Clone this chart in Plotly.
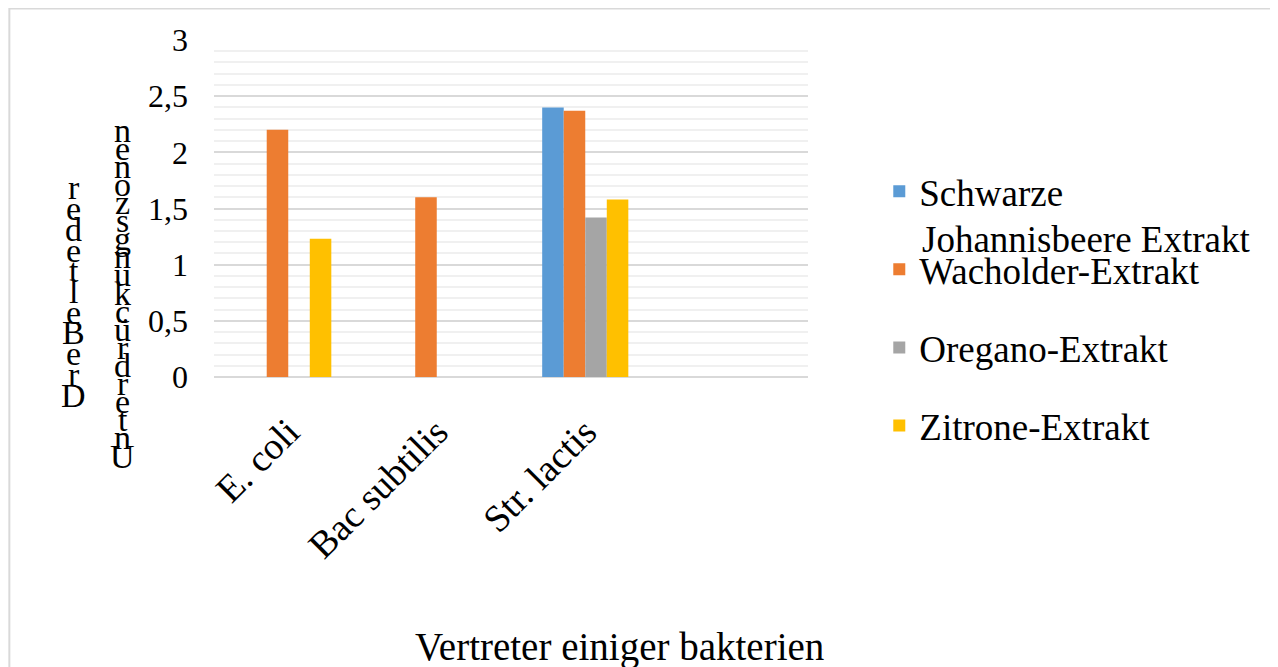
import plotly.graph_objects as go

categories = ["E. coli", "Bac subtilis", "Str. lactis"]
series_names = ["Schwarze Johannisbeere Extrakt", "Wacholder-Extrakt", "Oregano-Extrakt", "Zitrone-Extrakt"]
legend_first_line = "Schwarze"
legend_second_line = "Johannisbeere Extrakt"
schwarze = [None, None, 2.40]
wacholder = [2.20, 1.60, 2.37]
oregano = [None, None, 1.42]
zitrone = [1.23, None, 1.58]
colors = ["#5B9BD5", "#ED7D31", "#A5A5A5", "#FFC000"]
y_tickvals = [0, 0.5, 1, 1.5, 2, 2.5, 3]
y_ticktext = ["0", "0,5", "1", "1,5", "2", "2,5", "3"]
x_title = "Vertreter einiger bakterien"
y_title_col1 = ["r", "e", "d", "e", "t", "l", "e", "B", "e", "r", "D"]
y_title_col2 = list("nenozsgnukcürdretnU")

FONT = "Liberation Serif"
OFF = 8  # page body margin
W, H = 1270, 659
L, T = 213.5 - OFF, 40 - OFF
PW, PH = 595, 337
R, B = W - L - PW, H - T - PH

def ref_to_paper(x, y):
    return (x - OFF - L) / PW, (T + PH - (y - OFF)) / PH

fig = go.Figure()
for i, vals in enumerate([schwarze, wacholder, oregano, zitrone]):
    disp = legend_first_line if i == 0 else series_names[i]
    fig.add_trace(go.Bar(x=categories, y=vals, name=disp, marker_color=colors[i],
                         marker_line_width=0, legendgroup=f"g{i}",
                         hovertemplate=series_names[i] + "<br>%{x}: %{y}<extra></extra>"))

annotations = []
def add_col(letters, xc, ytop, ybot, size):
    n = len(letters)
    step = (ybot - ytop) / (n - 1)
    for k, ch in enumerate(letters):
        xp, yp = ref_to_paper(xc, ytop + k * step)
        annotations.append(dict(text=ch, x=xp, y=yp, xref="paper", yref="paper",
                                showarrow=False, xanchor="center", yanchor="middle",
                                font=dict(family=FONT, size=size, color="#000")))
add_col(y_title_col1, 73, 188, 395, 34)
add_col(y_title_col2, 122, 130, 456, 34)

xp, yp = ref_to_paper(620, 647)
annotations.append(dict(text=x_title, x=xp, y=yp, xref="paper", yref="paper", showarrow=False,
                        xanchor="center", yanchor="middle",
                        font=dict(family=FONT, size=39, color="#000")))
xp, yp = ref_to_paper(921, 239)
annotations.append(dict(text=legend_second_line, x=xp, y=yp, xref="paper", yref="paper", showarrow=False,
                        xanchor="left", yanchor="middle",
                        font=dict(family=FONT, size=37, color="#000")))

bx0, by0 = ref_to_paper(8.5, 8.5)
bx1, by1 = ref_to_paper(1273, 690)

fig.update_layout(
    width=W, height=H,
    margin=dict(l=L, r=R, t=T, b=B, pad=0),
    paper_bgcolor="white", plot_bgcolor="white",
    barmode="group", bargap=0.42, bargroupgap=0,
    font=dict(family=FONT, color="#000"),
    showlegend=True,
    xaxis=dict(range=[-0.5, 3.5], showgrid=False, showline=False, ticks="",
               tickangle=-45, tickfont=dict(family=FONT, size=38, color="#000"),
               ticklabelstandoff=24, zeroline=False),
    yaxis=dict(range=[0, 3], tickvals=y_tickvals, ticktext=y_ticktext,
               tickfont=dict(family=FONT, size=32, color="#000"),
               showgrid=True, gridcolor="#d9d9d9", gridwidth=1.5,
               minor=dict(dtick=0.1, showgrid=True, gridcolor="#f0f0f0", gridwidth=2),
               showline=False, ticks="", zeroline=True, zerolinecolor="#d9d9d9", zerolinewidth=1.5,
               ticklabelstandoff=25),
    legend=dict(x=1.12, y=0.642, xanchor="left", yanchor="top",
                font=dict(family=FONT, size=37, color="#000"),
                tracegroupgap=27, valign="middle", bgcolor="rgba(0,0,0,0)", maxheight=600),
    annotations=annotations,
    shapes=[dict(type="rect", xref="paper", yref="paper", x0=bx0, y0=by0, x1=bx1, y1=by1,
                 line=dict(color="#d9d9d9", width=2), fillcolor="rgba(0,0,0,0)", layer="below")],
)
fig.write_html("out.html")
